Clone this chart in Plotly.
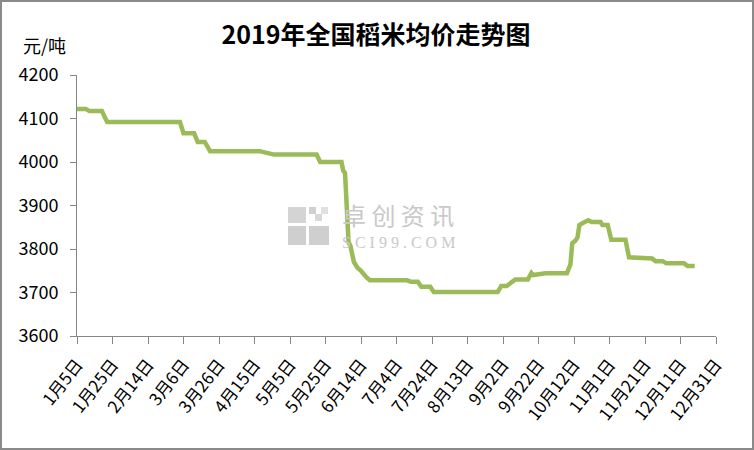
import pandas as pd
import plotly.graph_objects as go

# ---- data ----
dates = ["2019-01-05", "2019-01-10", "2019-01-12", "2019-01-19", "2019-01-22",
         "2019-03-04", "2019-03-06", "2019-03-12", "2019-03-14", "2019-03-18",
         "2019-03-21", "2019-04-18", "2019-04-22", "2019-04-26", "2019-05-20",
         "2019-05-22", "2019-06-03", "2019-06-04", "2019-06-05", "2019-06-07",
         "2019-06-08", "2019-06-10", "2019-06-12", "2019-06-14", "2019-06-17",
         "2019-06-19", "2019-07-10", "2019-07-12", "2019-07-16", "2019-07-18",
         "2019-07-23", "2019-07-25", "2019-08-30", "2019-09-01", "2019-09-04",
         "2019-09-06", "2019-09-09", "2019-09-16", "2019-09-17", "2019-09-18",
         "2019-09-19", "2019-09-25", "2019-09-26", "2019-10-08", "2019-10-09",
         "2019-10-10", "2019-10-11", "2019-10-13", "2019-10-14", "2019-10-15",
         "2019-10-17", "2019-10-20", "2019-10-22", "2019-10-27", "2019-10-28",
         "2019-10-31", "2019-11-02", "2019-11-10", "2019-11-12", "2019-11-17",
         "2019-11-19", "2019-11-25", "2019-11-27", "2019-12-01", "2019-12-03",
         "2019-12-13", "2019-12-15", "2019-12-19"]
prices = [4122, 4122, 4117, 4117, 4092,
          4092, 4066, 4066, 4046, 4046,
          4025, 4025, 4021, 4017, 4017,
          4000, 4000, 3980, 3975, 3815,
          3808, 3770, 3757, 3750, 3735,
          3728, 3728, 3725, 3725, 3713,
          3713, 3701, 3701, 3715, 3715,
          3722, 3730, 3730, 3737, 3745,
          3740, 3742, 3744, 3744, 3758,
          3765, 3813, 3820, 3827, 3855,
          3860, 3866, 3862, 3862, 3855,
          3855, 3821, 3821, 3781, 3780,
          3778, 3778, 3772, 3772, 3767,
          3767, 3761, 3761]

tick_labels = ["1月5日", "1月25日", "2月14日", "3月6日", "3月26日", "4月15日",
               "5月5日", "5月25日", "6月14日", "7月4日", "7月24日", "8月13日",
               "9月2日", "9月22日", "10月12日", "11月1日", "11月21日",
               "12月11日", "12月31日"]
tick_dates = pd.date_range("2019-01-05", periods=len(tick_labels), freq="20D")

title_text = "2019年全国稻米均价走势图"
unit_text = "元/吨"

FONT = "Noto Sans CJK SC"
W, H = 754, 450
ML, MR, MT, MB = 77, 38, 75, 114
PW, PH = W - ML - MR, H - MT - MB


def px(x):
    return (x - ML) / PW


def py(y):
    return (H - MB - y) / PH


fig = go.Figure()
fig.add_trace(go.Scatter(
    x=pd.to_datetime(dates), y=prices, mode="lines",
    line=dict(color="#9BBB59", width=4.5),
    showlegend=False, hoverinfo="x+y"))

axis_col = "#868686"
fig.update_layout(
    width=W, height=H,
    margin=dict(l=ML, r=MR, t=MT, b=MB, autoexpand=False),
    paper_bgcolor="white", plot_bgcolor="white",
    font=dict(family=FONT, color="black"),
    title=dict(text="<b>" + title_text + "</b>", x=376 / W, xanchor="center",
               y=1 - 35 / H, yanchor="middle", xref="container", yref="container",
               font=dict(family=FONT, size=25, color="black")),
    xaxis=dict(type="date", range=["2019-01-05", "2019-12-31"],
               tickmode="array", tickvals=tick_dates, ticktext=tick_labels,
               tickangle=-52, ticks="outside", ticklen=7, tickcolor=axis_col,
               ticklabelstandoff=4,
               showline=True, linecolor=axis_col, linewidth=1,
               showgrid=False, zeroline=False, automargin=False,
               tickfont=dict(family=FONT, size=17, color="black")),
    yaxis=dict(range=[3600, 4200], dtick=100, tick0=3600,
               ticks="outside", ticklen=6, tickcolor=axis_col,
               ticklabelstandoff=8,
               showline=True, linecolor=axis_col, linewidth=1,
               showgrid=False, zeroline=False, automargin=False,
               tickfont=dict(family=FONT, size=18, color="black")),
)

# y-axis unit
fig.add_annotation(text=unit_text, xref="paper", yref="paper",
                   x=px(44), y=py(45), xanchor="center", yanchor="middle",
                   showarrow=False,
                   font=dict(family=FONT, size=18, color="black"))

# watermark
wm = "#c9c9c9"
fig.add_annotation(text="卓 创 资 讯", xref="paper", yref="paper",
                   x=px(398), y=py(214), xanchor="center", yanchor="middle",
                   showarrow=False,
                   font=dict(family=FONT, size=24, color=wm))
fig.add_annotation(text="S C I 9 9 . C O M", xref="paper", yref="paper",
                   x=px(399), y=py(242), xanchor="center", yanchor="middle",
                   showarrow=False,
                   font=dict(family="Liberation Serif", size=16, color=wm))
for (x0, y0, x1, y1, c) in [(288, 207, 306, 223, "#d4d4d4"),
                            (288, 226, 306, 245, "#cfcfcf"),
                            (309, 226, 329, 245, "#cfcfcf"),
                            (309, 207, 316, 214, "#d0d0d0"),
                            (321, 207, 328, 214, "#e0e0e0"),
                            (315, 214, 322, 221, "#d8d8d8")]:
    fig.add_shape(type="rect", xref="paper", yref="paper",
                  x0=px(x0), x1=px(x1), y0=py(y0), y1=py(y1),
                  line=dict(width=0), fillcolor=c, layer="below")

# outer chart border
fig.add_shape(type="rect", xref="paper", yref="paper",
              x0=px(1), x1=px(W - 1), y0=py(H - 1), y1=py(1),
              line=dict(color="#8a8a8a", width=2))

fig.write_html(
    "out.html",
    config={"displayModeBar": False},
    post_script="document.body.style.margin='0';"
                "document.documentElement.style.overflow='hidden';")
